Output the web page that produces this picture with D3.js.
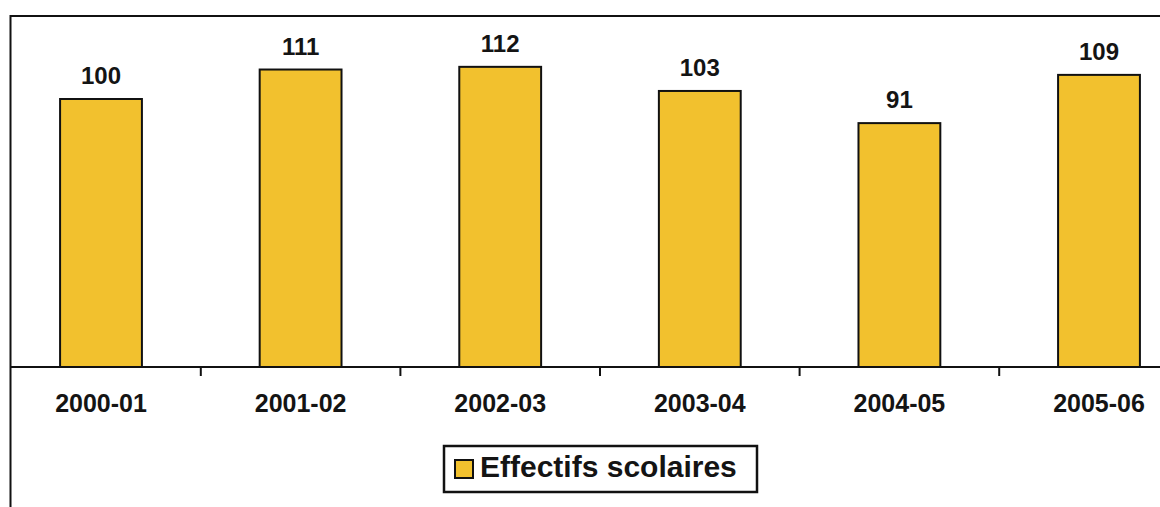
<!DOCTYPE html>
<html>
<head>
<meta charset="utf-8">
<script src="https://cdn.jsdelivr.net/npm/d3@7"></script>
<style>
  html, body { margin: 0; padding: 0; background: #fff; }
  svg { display: block; }
  text { font-family: "Liberation Sans", Arial, sans-serif; font-weight: bold; fill: #141414; }
</style>
</head>
<body>
<svg id="chart" width="1160" height="507"></svg>
<script>
// School enrolment index by school year
const years = ["2000-01", "2001-02", "2002-03", "2003-04", "2004-05", "2005-06"];
const effectifs = [100, 111, 112, 103, 91, 109];
const seriesName = "Effectifs scolaires";

const W = 1160, H = 507;
const baseY = 367;
const barFill = "#F2C12E";

const svg = d3.select("#chart");

const x = d3.scaleBand()
  .domain(years)
  .range([1.2, 1198.8])
  .paddingInner(0.59)
  .paddingOuter(0.295);

const y = d3.scaleLinear()
  .domain([0, 120])
  .range([baseY, baseY - 120 * 2.68]);

// chart frame (runs past the right and bottom edges)
svg.append("rect")
  .attr("x", 10.5).attr("y", 16)
  .attr("width", 1300).attr("height", 600)
  .attr("fill", "none")
  .attr("stroke", "#111")
  .attr("stroke-width", 2);

const rows = years.map((d, i) => ({ year: d, v: effectifs[i] }));

// bars
svg.append("g").selectAll("rect")
  .data(rows)
  .join("rect")
  .attr("x", d => x(d.year))
  .attr("y", d => y(d.v))
  .attr("width", x.bandwidth())
  .attr("height", d => y(0) - y(d.v))
  .attr("fill", barFill)
  .attr("stroke", "#111")
  .attr("stroke-width", 2);

// value labels
svg.append("g").selectAll("text")
  .data(rows)
  .join("text")
  .attr("x", d => x(d.year) + x.bandwidth() / 2)
  .attr("y", d => y(d.v) - 15)
  .attr("text-anchor", "middle")
  .style("font-size", "24px")
  .text(d => d.v);

// category axis
const axis = svg.append("g")
  .attr("transform", `translate(0,${baseY})`)
  .call(d3.axisBottom(x).tickSize(0).tickPadding(27));
axis.select(".domain").remove();
axis.selectAll("text")
  .attr("fill", "#141414")
  .style("font-family", "'Liberation Sans', Arial, sans-serif")
  .style("font-weight", "bold")
  .style("font-size", "25px");

// baseline
svg.append("line")
  .attr("x1", 10).attr("x2", W)
  .attr("y1", baseY).attr("y2", baseY)
  .attr("stroke", "#111").attr("stroke-width", 2);

// tick marks between categories
const step = x.step();
const bounds = years.slice(1).map(d => x(d) - x.paddingInner() * step / 2);
svg.append("g").selectAll("line")
  .data(bounds)
  .join("line")
  .attr("x1", d => d).attr("x2", d => d)
  .attr("y1", baseY).attr("y2", baseY + 9)
  .attr("stroke", "#111").attr("stroke-width", 2);

// legend
const lg = svg.append("g");
lg.append("rect")
  .attr("x", 444).attr("y", 446)
  .attr("width", 313).attr("height", 46)
  .attr("fill", "#fff")
  .attr("stroke", "#111").attr("stroke-width", 2.5);
lg.append("rect")
  .attr("x", 455).attr("y", 460)
  .attr("width", 18).attr("height", 18)
  .attr("fill", barFill)
  .attr("stroke", "#111").attr("stroke-width", 2);
lg.append("text")
  .attr("x", 480).attr("y", 477)
  .style("font-size", "30px")
  .text(seriesName);
</script>
</body>
</html>
